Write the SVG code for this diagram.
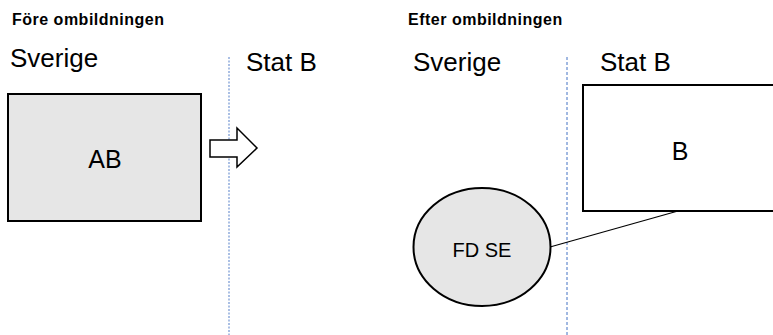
<svg xmlns="http://www.w3.org/2000/svg" width="773" height="335" viewBox="0 0 773 335">
  <style>
    .hdr { font-family: "Liberation Sans", Arial, sans-serif; font-weight: bold; font-size: 16px; letter-spacing: 0.5px; fill: #000; }
    .lbl { font-family: "Liberation Sans", Arial, sans-serif; font-size: 26px; fill: #000; }
    .nd { font-family: "Liberation Sans", Arial, sans-serif; font-size: 25px; fill: #000; text-anchor: middle; }
    .box { stroke: #000; stroke-width: 2; }
  </style>
  <rect width="773" height="335" fill="#fff"/>
  <g id="headers">
    <text class="hdr" x="12" y="25">Före ombildningen</text>
    <text class="hdr" x="408" y="25">Efter ombildningen</text>
  </g>
  <g id="labels">
    <text class="lbl" x="10" y="67">Sverige</text>
    <text class="lbl" x="246" y="71">Stat B</text>
    <text class="lbl" x="413" y="71">Sverige</text>
    <text class="lbl" x="600" y="71">Stat B</text>
  </g>
  <g id="borders">
    <line x1="229" y1="57" x2="229" y2="335" stroke="#8eaadb" stroke-width="1.5" stroke-dasharray="2 1.5"/>
    <line x1="567" y1="57" x2="567" y2="335" stroke="#4472c4" stroke-width="1" stroke-dasharray="3 2"/>
  </g>
  <g id="node-AB">
    <rect class="box" x="8" y="94" width="193" height="127" fill="#e6e6e6"/>
    <text class="nd" x="105" y="168">AB</text>
  </g>
  <g id="arrow-move">
    <polygon points="210,140 237,140 237,128 257,148 237,167 237,157 210,157" fill="#fff" stroke="#000" stroke-width="1.5"/>
  </g>
  <g id="node-B">
    <rect class="box" x="583" y="85" width="195" height="126" fill="#fff"/>
    <text class="nd" x="680" y="160">B</text>
  </g>
  <g id="connectors">
    <line x1="550" y1="247" x2="678" y2="211" stroke="#000" stroke-width="1.2"/>
  </g>
  <g id="node-FDSE">
    <ellipse class="box" cx="482" cy="247" rx="68.5" ry="59" fill="#e6e6e6" stroke-width="1.8"/>
    <text x="482" y="257" font-family="Liberation Sans, Arial, sans-serif" font-size="20" text-anchor="middle">FD SE</text>
  </g>
</svg>
